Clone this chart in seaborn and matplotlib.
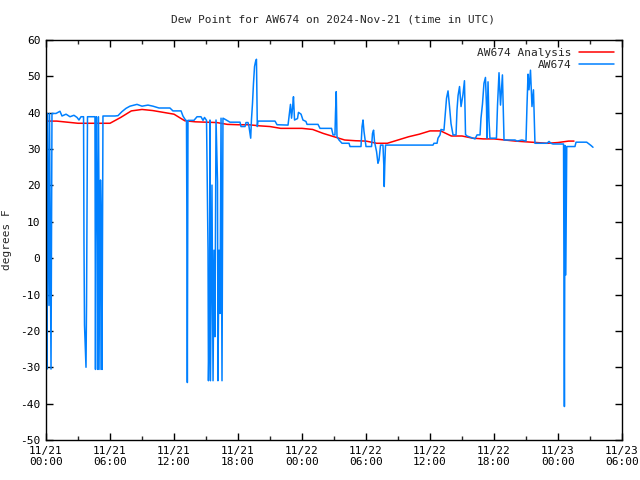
import numpy as np
import pandas as pd
import matplotlib
matplotlib.use("Agg")
import matplotlib.pyplot as plt
import seaborn as sns

# ---- data (hours since 2024-11-21 00:00 UTC, dew point in deg F) ----
analysis_hours = list(range(0, 50)) + [49.5]
analysis_vals = [37.7, 37.7, 37.4, 37.1, 37.1, 37.1, 37.1, 38.7, 40.5, 40.9,
                 40.6, 40.1, 39.6, 37.8, 37.5, 37.4, 37.3, 36.8, 36.7, 36.7,
                 36.4, 36.2, 35.7, 35.7, 35.7, 35.4, 34.3, 33.4, 32.5, 32.3,
                 32.2, 31.6, 31.6, 32.5, 33.4, 34.1, 35.0, 35.0, 33.6, 33.6,
                 33.0, 32.8, 32.8, 32.5, 32.2, 32.0, 31.8, 31.6, 31.8, 32.2, 32.2]

obs_hours = [0.05, 0.09, 0.14, 0.23, 0.28, 0.33, 0.47, 0.56, 0.94, 1.31,
             1.5, 1.88, 2.25, 2.62, 2.91, 3.09, 3.28, 3.52, 3.56, 3.61,
             3.75, 3.8, 3.89, 4.59, 4.64, 4.69, 4.73, 4.83, 4.87, 4.92,
             5.02, 5.06, 5.11, 5.2, 5.25, 5.34, 6.47, 6.75, 7.12, 7.5,
             7.87, 8.53, 9.0, 9.56, 10.03, 10.59, 11.62, 11.9, 12.66, 12.84,
             13.03, 13.17, 13.22, 13.25, 13.31, 13.87, 14.16, 14.53, 14.72, 14.86,
             15.05, 15.19, 15.23, 15.33, 15.37, 15.42, 15.56, 15.66, 15.75, 15.84,
             15.94, 16.08, 16.12, 16.22, 16.31, 16.41, 16.5, 16.59, 16.78, 17.25,
             18.19, 18.28, 18.66, 18.75, 18.94, 19.03, 19.19, 19.26, 19.36, 19.45,
             19.55, 19.64, 19.73, 19.81, 19.87, 21.47, 21.66, 22.69, 22.78, 22.92,
             23.02, 23.11, 23.2, 23.3, 23.58, 23.67, 23.91, 24.09, 24.37, 24.47,
             25.5, 25.69, 26.77, 26.91, 27.09, 27.14, 27.21, 27.28, 27.47, 27.75,
             28.41, 28.5, 29.53, 29.63, 29.72, 29.81, 30.0, 30.52, 30.61, 30.71,
             30.8, 30.99, 31.12, 31.22, 31.36, 31.59, 31.67, 31.71, 31.76, 31.83,
             36.28, 36.37, 36.66, 36.75, 36.94, 37.03, 37.31, 37.45, 37.55, 37.69,
             37.83, 37.97, 38.16, 38.44, 38.53, 38.63, 38.77, 38.91, 39.09, 39.23,
             39.33, 39.47, 40.22, 40.41, 40.69, 40.78, 40.92, 41.06, 41.2, 41.3,
             41.34, 41.44, 41.53, 41.62, 42.23, 42.33, 42.47, 42.61, 42.79, 42.94,
             43.97, 44.16, 44.62, 45.0, 45.09, 45.19, 45.28, 45.42, 45.56, 45.7,
             45.84, 46.97, 47.16, 47.34, 47.53, 48.52, 48.6, 48.66, 48.73, 48.82,
             49.59, 49.69, 50.69, 50.91, 51.09, 51.28]
obs_vals = [39.8, -30.5, 39.8, 4.8, -13.0, 39.8, -30.5, 39.8, 39.8, 40.4,
            39.1, 39.6, 38.9, 39.3, 38.7, 38.0, 38.9, 38.9, 4.5, -18.4,
            -30.0, -12.9, 38.9, 38.9, -30.6, 21.5, 38.9, 4.2, -30.6, 38.9,
            -13.0, -30.6, 21.5, 4.2, -30.6, 39.1, 39.1, 39.2, 40.3, 41.2,
            41.8, 42.3, 41.8, 42.1, 41.8, 41.3, 41.3, 40.5, 40.5, 39.1,
            38.2, 37.8, 1.5, -34.2, 37.9, 37.9, 38.9, 38.9, 37.9, 38.7,
            37.9, 2.2, -33.7, -15.6, 38.0, -33.7, 20.1, -33.7, 2.2, -21.6,
            38.0, 21.0, -33.7, 2.2, -15.2, 38.5, -33.7, 38.5, 38.2, 37.4,
            37.4, 36.2, 36.2, 37.3, 37.3, 36.2, 33.0, 38.0, 42.6, 48.0,
            52.7, 54.0, 54.7, 36.2, 37.7, 37.7, 36.7, 36.6, 38.9, 42.3,
            38.5, 41.2, 44.4, 38.0, 38.4, 40.1, 39.6, 38.0, 37.6, 36.8,
            36.8, 35.7, 35.7, 33.9, 33.9, 39.8, 45.8, 33.4, 32.5, 31.6,
            31.6, 30.7, 30.7, 36.2, 38.0, 34.9, 30.7, 30.7, 34.3, 35.2,
            32.0, 29.3, 26.1, 27.0, 31.1, 31.1, 25.6, 19.7, 25.6, 31.1,
            31.1, 31.6, 31.6, 33.0, 33.9, 35.4, 35.2, 40.3, 44.0, 46.0,
            41.7, 37.0, 33.9, 33.9, 40.7, 44.7, 47.2, 41.7, 45.0, 48.8,
            34.0, 33.6, 32.8, 33.9, 33.9, 38.5, 42.4, 48.1, 49.7, 41.5,
            33.0, 48.5, 37.8, 33.0, 33.0, 42.1, 51.0, 42.1, 50.4, 32.5,
            32.5, 32.2, 32.5, 32.2, 41.7, 50.6, 46.3, 51.7, 41.7, 46.3,
            31.6, 31.6, 32.1, 31.6, 31.4, 31.4, -40.8, 31.0, -4.6, 30.7,
            30.7, 31.9, 31.9, 31.4, 31.0, 30.5]

xtick_hours = [0, 6, 12, 18, 24, 30, 36, 42, 48, 54]
xtick_labels = ["11/21\n00:00", "11/21\n06:00", "11/21\n12:00", "11/21\n18:00",
                "11/22\n00:00", "11/22\n06:00", "11/22\n12:00", "11/22\n18:00",
                "11/23\n00:00", "11/23\n06:00"]
yticks = list(range(-50, 61, 10))

title = "Dew Point for AW674 on 2024-Nov-21 (time in UTC)"
ylabel = "degrees F"
series_names = ["AW674 Analysis", "AW674"]

# ---- plot ----
sns.set_style("white")
plt.rcParams['font.family'] = ['DejaVu Sans Mono', 'DejaVu Sans']

fig = plt.figure(figsize=(6.4, 4.8), dpi=100)
ax = fig.add_axes([46/640, 40/480, 576/640, 400/480])

df_a = pd.DataFrame({"hour": analysis_hours, "val": analysis_vals})
df_o = pd.DataFrame({"hour": obs_hours, "val": obs_vals})

sns.lineplot(data=df_a, x="hour", y="val", ax=ax, color="#ff0000", lw=1.1,
             estimator=None, sort=False, label=series_names[0])
sns.lineplot(data=df_o, x="hour", y="val", ax=ax, color="#0080ff", lw=1.1,
             estimator=None, sort=False, label=series_names[1])

ax.set_xlim(0, 54)
ax.set_ylim(-50, 60)
ax.set_xticks(xtick_hours)
ax.set_xticklabels(xtick_labels, fontsize=8)
ax.set_xticks(np.arange(0, 55, 3), minor=True)
ax.set_yticks(yticks)
ax.set_yticklabels([str(v) for v in yticks], fontsize=8)
ax.tick_params(which="major", direction="in", length=5, width=1,
               top=True, right=True, bottom=True, left=True, pad=4, colors="black")
ax.tick_params(which="minor", direction="in", length=3, width=1,
               top=True, right=True, bottom=True, left=True)
ax.tick_params(axis="y", which="minor", length=0)
ax.set_xlabel("")
ax.set_ylabel(ylabel, fontsize=8, labelpad=6)
for s in ax.spines.values():
    s.set_visible(True)
    s.set_color("black")
    s.set_linewidth(1)

fig.text(333/640, 1 - 20/480, title, ha="center", va="center", fontsize=8)

leg = ax.legend(loc="upper right", frameon=False, markerfirst=False,
                fontsize=8, handlelength=3.2, handletextpad=0.6,
                labelspacing=0.2, borderaxespad=0.3)

fig.savefig("out.png", dpi=100)
